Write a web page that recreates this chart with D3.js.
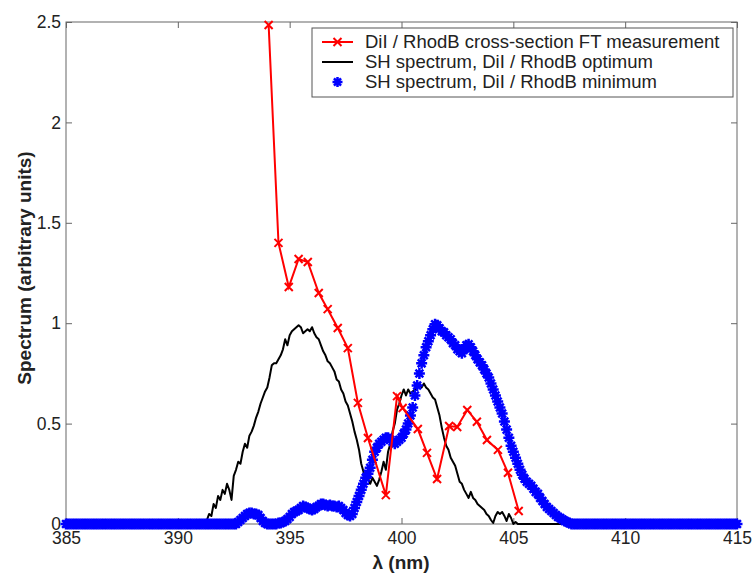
<!DOCTYPE html>
<html>
<head>
<meta charset="utf-8">
<script src="https://cdn.jsdelivr.net/npm/d3@7"></script>
<style>
  body { margin: 0; background: #fff; }
  svg text { font-family: "Liberation Sans", Arial, sans-serif; }
</style>
</head>
<body>
<div id="chart"></div>
<script>
// wavelength grid of the two SH spectra (nm)
const lambdaStart = 385;
const lambdaStep = 0.1;

// SH spectrum, DiI / RhodB optimum (one value per 0.1 nm, 385 -> 415)
const blackValues = [
  0,0,0,0,0,0,0,0,0,0, 0,0,0,0,0,0,0,0,0,0, 0,0,0,0,0,0,0,0,0,0,
  0,0,0,0,0,0,0,0,0,0, 0,0,0,0,0,0,0,0,0,0, 0,0,0,0,0,0,0,0,0,0,
  0,0,0,0.02,0.05,0.04,0.1,0.08,0.14,0.12,
  0.17,0.15,0.2,0.17,0.12,0.24,0.27,0.31,0.3,0.36,
  0.4,0.38,0.44,0.46,0.49,0.53,0.56,0.6,0.63,0.66,
  0.68,0.73,0.79,0.8,0.8,0.82,0.84,0.87,0.92,0.89,
  0.94,0.96,0.97,0.98,0.99,0.98,0.95,0.96,0.97,0.96,
  0.98,0.95,0.93,0.92,0.89,0.86,0.84,0.81,0.8,0.78,
  0.76,0.72,0.71,0.67,0.65,0.61,0.59,0.55,0.51,0.46,
  0.42,0.37,0.3,0.26,0.22,0.23,0.2,0.23,0.21,0.19,
  0.22,0.26,0.31,0.27,0.36,0.4,0.46,0.5,0.57,0.6,
  0.64,0.67,0.64,0.67,0.65,0.66,0.67,0.69,0.7,0.68,
  0.7,0.68,0.67,0.65,0.63,0.62,0.58,0.54,0.48,0.43,
  0.39,0.37,0.33,0.31,0.29,0.25,0.21,0.2,0.17,0.15,
  0.13,0.16,0.13,0.12,0.1,0.09,0.08,0.07,0.05,0.04,
  0.02,0.005,0.04,0.06,0.05,0.06,0.04,0.015,0.05,0.03,
  0,0.01,0,0,0,0,0,0,0,0,
  0,0,0,0,0,0,0,0,0,0, 0,0,0,0,0,0,0,0,0,0, 0,0,0,0,0,0,0,0,0,0,
  0,0,0,0,0,0,0,0,0,0, 0,0,0,0,0,0,0,0,0,0, 0,0,0,0,0,0,0,0,0,0,
  0,0,0,0,0,0,0,0,0,0, 0,0,0,0,0,0,0,0,0,0, 0,0,0,0,0,0,0,0,0,0,
  0
];

// SH spectrum, DiI / RhodB minimum (same grid)
const blueValues = [
  0,0,0,0,0,0,0,0,0,0, 0,0,0,0,0,0,0,0,0,0, 0,0,0,0,0,0,0,0,0,0,
  0,0,0,0,0,0,0,0,0,0, 0,0,0,0,0,0,0,0,0,0, 0,0,0,0,0,0,0,0,0,0,
  0,0,0,0,0,0,0,0,0,0,
  0,0,0,0,0,0,0,0.01,0.02,0.03,
  0.04,0.05,0.055,0.055,0.05,0.05,0.045,0.03,0.015,0.005,
  0,0,0,0,0,0.005,0.005,0.01,0.015,0.025,
  0.035,0.05,0.06,0.065,0.07,0.08,0.09,0.085,0.08,0.075,
  0.07,0.075,0.085,0.09,0.1,0.1,0.095,0.09,0.095,0.09,
  0.09,0.085,0.09,0.08,0.07,0.055,0.045,0.04,0.05,0.08,
  0.11,0.14,0.17,0.2,0.23,0.25,0.28,0.32,0.36,0.38,
  0.4,0.41,0.42,0.43,0.43,0.42,0.41,0.4,0.41,0.42,
  0.43,0.45,0.47,0.5,0.54,0.58,0.64,0.69,0.75,0.8,
  0.84,0.88,0.91,0.94,0.97,0.995,0.99,0.975,0.96,0.955,
  0.94,0.93,0.92,0.9,0.89,0.87,0.86,0.85,0.87,0.89,
  0.895,0.88,0.86,0.84,0.82,0.805,0.79,0.77,0.75,0.73,
  0.7,0.67,0.64,0.61,0.58,0.55,0.51,0.47,0.43,0.39,
  0.36,0.33,0.3,0.27,0.245,0.225,0.21,0.2,0.19,0.175,
  0.16,0.15,0.13,0.115,0.1,0.085,0.075,0.065,0.055,0.045,
  0.035,0.03,0.022,0.015,0.01,0.005,0,0,0,0,
  0,0,0,0,0,0,0,0,0,0, 0,0,0,0,0,0,0,0,0,0, 0,0,0,0,0,0,0,0,0,0,
  0,0,0,0,0,0,0,0,0,0, 0,0,0,0,0,0,0,0,0,0, 0,0,0,0,0,0,0,0,0,0,
  0,0,0,0,0,0,0,0,0,0,
  0
];

// DiI / RhodB cross-section FT measurement
const redX = [394.06, 394.5, 394.96, 395.4, 395.81, 396.3, 396.7, 397.15, 397.6, 398.05,
              398.5, 399.3, 399.8, 400.05, 400.73, 401.14, 401.59, 402.13, 402.49, 402.94,
              403.37, 403.82, 404.31, 404.76, 405.24];
const redY = [2.485, 1.40, 1.18, 1.32, 1.305, 1.15, 1.07, 0.976, 0.876, 0.603,
              0.428, 0.144, 0.637, 0.578, 0.473, 0.354, 0.224, 0.488, 0.483, 0.568,
              0.509, 0.418, 0.369, 0.255, 0.065];

const xTicks = [385, 390, 395, 400, 405, 410, 415];
const yTicks = [0, 0.5, 1, 1.5, 2, 2.5];
const legendLabels = [
  "DiI / RhodB cross-section FT measurement",
  "SH spectrum, DiI / RhodB optimum",
  "SH spectrum, DiI / RhodB minimum"
];

const W = 755, H = 574;
const plotL = 66, plotR = 737, plotT = 22, plotB = 524;

const svg = d3.select("#chart").append("svg")
  .attr("width", W)
  .attr("height", H);

const x = d3.scaleLinear().domain([385, 415]).range([plotL, plotR]);
const y = d3.scaleLinear().domain([0, 2.5]).range([plotB, plotT]);

const black = blackValues.map((v, i) => ({ l: lambdaStart + i * lambdaStep, v }));
const blue = blueValues.map((v, i) => ({ l: lambdaStart + i * lambdaStep, v }));
const red = redX.map((l, i) => ({ l, v: redY[i] }));

// box
svg.append("rect")
  .attr("x", plotL).attr("y", plotT)
  .attr("width", plotR - plotL).attr("height", plotB - plotT)
  .attr("fill", "none").attr("stroke", "#666").attr("stroke-width", 1);

// axes, ticks pointing inwards
const fmt = (d) => String(d);
const styleAxis = (g) => {
  g.select(".domain").remove();
  g.selectAll(".tick line").attr("stroke", "#666");
  g.selectAll(".tick text").attr("fill", "#222").style("font-size", "17.5px");
};

svg.append("g")
  .attr("transform", `translate(0,${plotB})`)
  .call(d3.axisBottom(x).tickValues(xTicks).tickFormat(fmt).tickSizeInner(-6).tickSizeOuter(0).tickPadding(8))
  .call(styleAxis);

svg.append("g")
  .attr("transform", `translate(${plotL},0)`)
  .call(d3.axisLeft(y).tickValues(yTicks).tickFormat(fmt).tickSizeInner(-6).tickSizeOuter(0).tickPadding(5))
  .call(styleAxis);

svg.append("g")
  .attr("transform", `translate(0,${plotT})`)
  .call(d3.axisTop(x).tickValues(xTicks).tickFormat("").tickSizeInner(-6).tickSizeOuter(0))
  .call(styleAxis);

svg.append("g")
  .attr("transform", `translate(${plotR},0)`)
  .call(d3.axisRight(y).tickValues(yTicks).tickFormat("").tickSizeInner(-6).tickSizeOuter(0))
  .call(styleAxis);

// axis labels
svg.append("text")
  .attr("x", 401)
  .attr("y", 569)
  .attr("text-anchor", "middle")
  .style("font-size", "19px")
  .style("font-weight", "bold")
  .attr("fill", "#222")
  .text("λ (nm)");

svg.append("text")
  .attr("transform", "translate(31,268) rotate(-90)")
  .attr("text-anchor", "middle")
  .style("font-size", "19px")
  .style("font-weight", "bold")
  .attr("fill", "#222")
  .text("Spectrum (arbitrary units)");

const line = d3.line().x((d) => x(d.l)).y((d) => y(d.v));

const asterisk = (r) => {
  const a = r * 0.7071;
  return `M${-r},0L${r},0M0,${-r}L0,${r}M${-a},${-a}L${a},${a}M${-a},${a}L${a},${-a}`;
};
const cross = (r) => `M${-r},${-r}L${r},${r}M${-r},${r}L${r},${-r}`;

// black line
svg.append("path")
  .datum(black)
  .attr("d", line)
  .attr("fill", "none")
  .attr("stroke", "#000")
  .attr("stroke-width", 2)
  .attr("stroke-linejoin", "round");

// blue asterisks
svg.append("g").selectAll("path")
  .data(blue)
  .enter()
  .append("path")
  .attr("transform", (d) => `translate(${x(d.l)},${y(d.v)})`)
  .attr("d", asterisk(5.5))
  .attr("fill", "none")
  .attr("stroke", "#0000ff")
  .attr("stroke-width", 2.5);

// red line with x markers
svg.append("path")
  .datum(red)
  .attr("d", line)
  .attr("fill", "none")
  .attr("stroke", "#ff0000")
  .attr("stroke-width", 2);

svg.append("g").selectAll("path")
  .data(red)
  .enter()
  .append("path")
  .attr("transform", (d) => `translate(${x(d.l)},${y(d.v)})`)
  .attr("d", cross(4))
  .attr("fill", "none")
  .attr("stroke", "#ff0000")
  .attr("stroke-width", 2);

// legend
const lg = svg.append("g");
lg.append("rect")
  .attr("x", 312).attr("y", 28)
  .attr("width", 421).attr("height", 69)
  .attr("fill", "#fff").attr("stroke", "#555").attr("stroke-width", 1);

const rowY = [42, 62, 82];
lg.append("line").attr("x1", 322).attr("x2", 353).attr("y1", rowY[0]).attr("y2", rowY[0])
  .attr("stroke", "#ff0000").attr("stroke-width", 2);
lg.append("path").attr("transform", `translate(337.5,${rowY[0]})`).attr("d", cross(4))
  .attr("stroke", "#ff0000").attr("stroke-width", 2);
lg.append("line").attr("x1", 322).attr("x2", 353).attr("y1", rowY[1]).attr("y2", rowY[1])
  .attr("stroke", "#000").attr("stroke-width", 2);
lg.append("path").attr("transform", `translate(337.5,${rowY[2]})`).attr("d", asterisk(5))
  .attr("stroke", "#0000ff").attr("stroke-width", 2.5);

lg.selectAll("text.lab")
  .data(legendLabels)
  .enter()
  .append("text")
  .attr("class", "lab")
  .attr("x", 365)
  .attr("y", (d, i) => rowY[i])
  .attr("dy", "0.35em")
  .style("font-size", "18.5px")
  .attr("fill", "#222")
  .text((d) => d);
</script>
</body>
</html>
